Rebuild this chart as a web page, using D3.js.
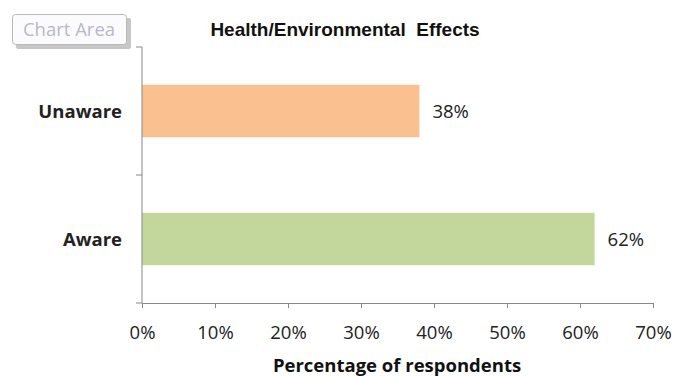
<!DOCTYPE html>
<html>
<head>
<meta charset="utf-8">
<script src="https://cdn.jsdelivr.net/npm/d3@7"></script>
<style>
  html, body { margin: 0; padding: 0; background: #fff; }
  svg { display: block; font-family: "Open Sans", "Liberation Sans", sans-serif; }
</style>
</head>
<body>
<svg id="chart" width="688" height="376"></svg>
<script>
// Awareness of health / environmental effects
const categories = ["Unaware", "Aware"];
const values = [0.38, 0.62];
const barColors = ["#FAC090", "#C3D69B"];
const xTicks = [0, 0.1, 0.2, 0.3, 0.4, 0.5, 0.6, 0.7];

const svg = d3.select("#chart");
const margin = { left: 142, right: 35, top: 47, bottom: 73 };
const W = 688, H = 376;
const innerW = W - margin.left - margin.right;
const innerH = H - margin.top - margin.bottom;
const FS = 18.5;

const x = d3.scaleLinear().domain([0, 0.7]).range([0, innerW]);
const y = d3.scaleBand().domain(categories).range([0, innerH]).paddingInner(0.59).paddingOuter(0.295);

const g = svg.append("g").attr("transform", `translate(${margin.left},${margin.top})`);

// bars
g.selectAll("rect.bar").data(categories).join("rect")
  .attr("class", "bar")
  .attr("x", x(0))
  .attr("y", d => y(d))
  .attr("width", (d, i) => x(values[i]) - x(0))
  .attr("height", y.bandwidth())
  .attr("fill", (d, i) => barColors[i]);

// value labels
g.selectAll("text.val").data(categories).join("text")
  .attr("class", "val")
  .attr("x", (d, i) => x(values[i]) + 13)
  .attr("y", d => y(d) + y.bandwidth() / 2)
  .attr("dy", "0.36em")
  .attr("font-size", FS)
  .attr("fill", "#222")
  .text((d, i) => d3.format(".0%")(values[i]));

// x axis
const xAxis = g.append("g").attr("transform", `translate(0,${innerH})`)
  .call(d3.axisBottom(x).tickValues(xTicks).tickFormat(d3.format(".0%")).tickSize(5).tickPadding(18).tickSizeOuter(0));
xAxis.select(".domain").attr("stroke", "#888");
xAxis.selectAll(".tick line").attr("stroke", "#888");
xAxis.selectAll(".tick text").attr("font-size", FS).attr("fill", "#222").attr("font-family", "Open Sans, sans-serif");

// y axis: line with ticks at category boundaries
const yAxisG = g.append("g");
yAxisG.append("line").attr("x1", 0).attr("x2", 0).attr("y1", 0).attr("y2", innerH).attr("stroke", "#888");
const boundaries = d3.range(categories.length + 1).map(i => i * (innerH / categories.length));
yAxisG.selectAll("line.tk").data(boundaries).join("line")
  .attr("class", "tk")
  .attr("x1", -6).attr("x2", 0)
  .attr("y1", d => d).attr("y2", d => d)
  .attr("stroke", "#888");

// category labels
g.selectAll("text.cat").data(categories).join("text")
  .attr("class", "cat")
  .attr("x", -20)
  .attr("y", d => y(d) + y.bandwidth() / 2)
  .attr("dy", "0.36em")
  .attr("text-anchor", "end")
  .attr("font-size", FS)
  .attr("font-weight", "bold")
  .attr("fill", "#222")
  .text(d => d);

// title
svg.append("text")
  .attr("x", 345).attr("y", 36)
  .attr("text-anchor", "middle")
  .attr("font-family", "Liberation Sans, Arial, sans-serif")
  .attr("font-size", 19)
  .attr("font-weight", "bold")
  .attr("fill", "#111")
  .attr("xml:space", "preserve")
  .text("Health/Environmental  Effects");

// x axis title
svg.append("text")
  .attr("x", 397).attr("y", 372)
  .attr("text-anchor", "middle")
  .attr("font-size", FS)
  .attr("font-weight", "bold")
  .attr("fill", "#111")
  .text("Percentage of respondents");

// "Chart Area" tooltip box
const tip = svg.append("g").attr("transform", "translate(12,14)");
tip.append("rect").attr("x", 4).attr("y", 4).attr("width", 115).attr("height", 31).attr("rx", 2)
  .attr("fill", "#999").attr("opacity", 0.55);
tip.append("rect").attr("x", 0.5).attr("y", 0.5).attr("width", 114).attr("height", 30).attr("rx", 3)
  .attr("fill", "#fbfbfd").attr("stroke", "#b8b8b8");
tip.append("text").attr("x", 57).attr("y", 22).attr("text-anchor", "middle")
  .attr("font-size", FS).attr("fill", "#b8b8c8").text("Chart Area");
</script>
</body>
</html>
